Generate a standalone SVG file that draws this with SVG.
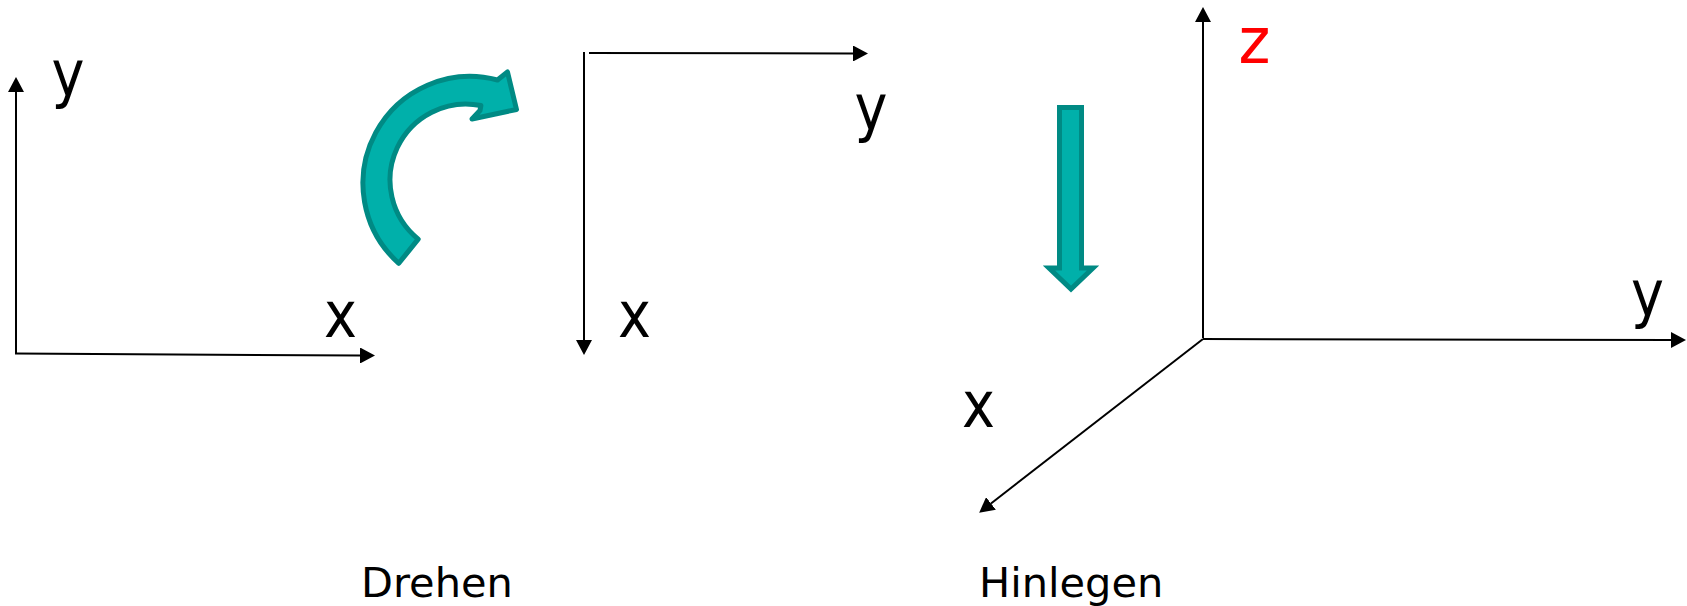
<svg xmlns="http://www.w3.org/2000/svg" width="1687" height="606" viewBox="0 0 1687 606">
<style>
.ax{stroke:#000;stroke-width:2;fill:none;marker-end:url(#ah)}
.lbl{font-family:"DejaVu Sans",Verdana,sans-serif;font-size:64px;fill:#000;text-anchor:middle}
.cap{font-family:"DejaVu Sans",Verdana,sans-serif;font-size:41.5px;fill:#000}
.teal{fill:#00B0AA;stroke:#008A84;stroke-width:5}
</style>
<defs>
<marker id="ah" markerUnits="userSpaceOnUse" markerWidth="16" markerHeight="16" refX="0" refY="8" orient="auto" viewBox="0 0 16 16">
<path d="M0,0 L15,8 L0,16 z" fill="#000"/>
</marker>
</defs>
<g id="connectors">
<line class="ax" x1="16" y1="354" x2="16" y2="92"/>
<line class="ax" x1="15" y1="353.5" x2="360" y2="355.5"/>
<line class="ax" x1="584" y1="52" x2="584" y2="340"/>
<line class="ax" x1="589" y1="53" x2="853" y2="53.5"/>
<line class="ax" x1="1203" y1="338" x2="1203" y2="22"/>
<line class="ax" x1="1203" y1="339" x2="1671" y2="340"/>
<line class="ax" x1="1203" y1="339" x2="991" y2="503.5"/>
</g>
<g id="label-y1"><text class="lbl" transform="translate(68,96) scale(0.87,1)">y</text></g>
<g id="label-x1"><text class="lbl" transform="translate(340.5,337) scale(0.87,1)">x</text></g>
<g id="label-x2"><text class="lbl" transform="translate(634.5,337) scale(0.87,1)">x</text></g>
<g id="label-y2"><text class="lbl" transform="translate(871,130) scale(0.87,1)">y</text></g>
<g id="label-z"><text class="lbl" transform="translate(1254.5,63) scale(0.95,1)" style="fill:#FF0000">z</text></g>
<g id="label-x3"><text class="lbl" transform="translate(978.5,427) scale(0.87,1)">x</text></g>
<g id="label-y3"><text class="lbl" transform="translate(1647.5,316) scale(0.87,1)">y</text></g>
<g id="rotate-arrow">
<path class="teal" stroke-linejoin="round" d="M398.8,263.3 A107,107 0 0 1 497.5,80 L507.5,72 L516.5,109.5 L472,119 L480,110.5 L480.9,105.5 A76,76 0 0 0 418.2,239.1 Z"/>
</g>
<g id="down-arrow">
<path class="teal" stroke-linejoin="miter" d="M1059.5,107.5 L1081.5,107.5 L1081.5,268 L1093,268 L1071,289 L1049,268 L1059.5,268 Z"/>
</g>
<g id="caption-drehen"><text class="cap" x="361" y="597">Drehen</text></g>
<g id="caption-hinlegen"><text class="cap" x="979" y="597">Hinlegen</text></g>
</svg>
